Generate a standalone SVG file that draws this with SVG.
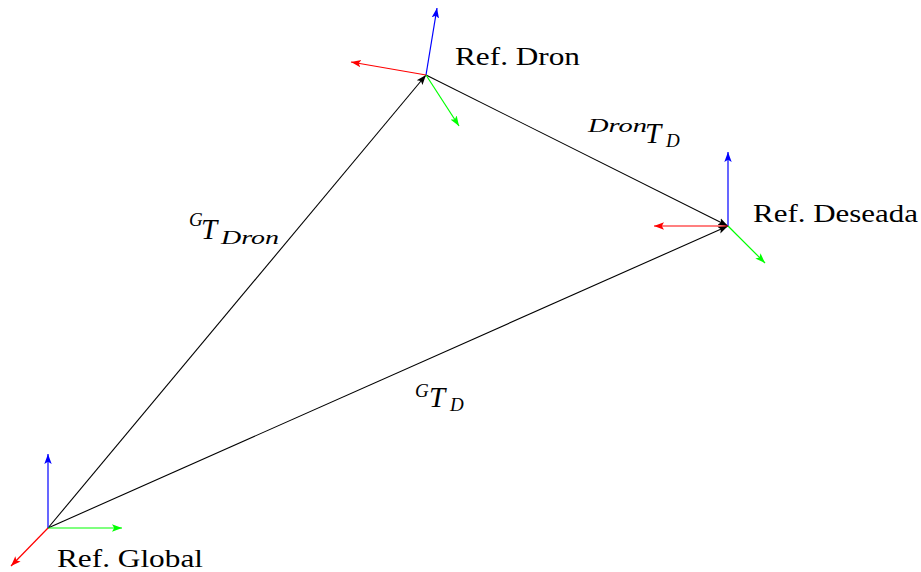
<svg xmlns="http://www.w3.org/2000/svg" width="921" height="572" viewBox="0 0 921 572">
<defs>
<marker id="ak" markerUnits="userSpaceOnUse" markerWidth="11" markerHeight="9" refX="10" refY="4.5" orient="auto"><path d="M0,0.8 L10,4.5 L0,8.2 L2.2,4.5 Z" fill="#000"/></marker>
<marker id="ar" markerUnits="userSpaceOnUse" markerWidth="11" markerHeight="9" refX="10" refY="4.5" orient="auto"><path d="M0,0.8 L10,4.5 L0,8.2 L2.2,4.5 Z" fill="#f00"/></marker>
<marker id="ag" markerUnits="userSpaceOnUse" markerWidth="11" markerHeight="9" refX="10" refY="4.5" orient="auto"><path d="M0,0.8 L10,4.5 L0,8.2 L2.2,4.5 Z" fill="#0f0"/></marker>
<marker id="ab" markerUnits="userSpaceOnUse" markerWidth="11" markerHeight="9" refX="10" refY="4.5" orient="auto"><path d="M0,0.8 L10,4.5 L0,8.2 L2.2,4.5 Z" fill="#00f"/></marker>
</defs>
<style>
.k{stroke:#000;stroke-width:1.1;fill:none;marker-end:url(#ak)}
.r{stroke:#f00;stroke-width:1.2;fill:none;marker-end:url(#ar)}
.g{stroke:#0f0;stroke-width:1.2;fill:none;marker-end:url(#ag)}
.b{stroke:#00f;stroke-width:1.2;fill:none;marker-end:url(#ab)}
.lbl{font-family:"Liberation Serif","DejaVu Serif",serif;font-size:26px;fill:#000}
.m{font-family:"Liberation Serif","DejaVu Serif",serif;font-style:italic;fill:#000}
</style>
<rect width="921" height="572" fill="#fff"/>
<g id="connectors">
<line class="k" x1="48" y1="528" x2="426" y2="75"/>
<line class="k" x1="48" y1="528" x2="728" y2="226"/>
<line class="k" x1="426" y1="75" x2="728" y2="226"/>
</g>
<g id="ref-global">
<line class="b" x1="48" y1="528" x2="48" y2="454"/>
<line class="g" x1="48" y1="528" x2="122" y2="528"/>
<line class="r" x1="48" y1="528" x2="11" y2="566"/>
<text class="lbl" x="57" y="567" textLength="146" lengthAdjust="spacingAndGlyphs">Ref. Global</text>
</g>
<g id="ref-dron">
<line class="b" x1="426" y1="75" x2="437" y2="8"/>
<line class="r" x1="426" y1="75" x2="351" y2="62"/>
<line class="g" x1="426" y1="75" x2="459" y2="126"/>
<text class="lbl" x="455" y="65" textLength="125" lengthAdjust="spacingAndGlyphs">Ref. Dron</text>
</g>
<g id="ref-deseada">
<line class="b" x1="728" y1="226" x2="728" y2="152"/>
<line class="r" x1="728" y1="226" x2="654" y2="226"/>
<line class="g" x1="728" y1="226" x2="765" y2="263"/>
<text class="lbl" x="753" y="222" textLength="165" lengthAdjust="spacingAndGlyphs">Ref. Deseada</text>
</g>
<g id="label-gtdron">
<text class="m" x="189" y="226" font-size="19">G</text>
<text class="m" x="201" y="239" font-size="29">T</text>
<text class="m" x="221" y="244" font-size="19" textLength="58" lengthAdjust="spacingAndGlyphs">Dron</text>
</g>
<g id="label-gtd">
<text class="m" x="415" y="397" font-size="19">G</text>
<text class="m" x="429" y="407" font-size="29">T</text>
<text class="m" x="450" y="411" font-size="19">D</text>
</g>
<g id="label-drontd">
<text class="m" x="588" y="132" font-size="19" textLength="59" lengthAdjust="spacingAndGlyphs">Dron</text>
<text class="m" x="645" y="143" font-size="29">T</text>
<text class="m" x="666" y="147" font-size="19">D</text>
</g>
</svg>
